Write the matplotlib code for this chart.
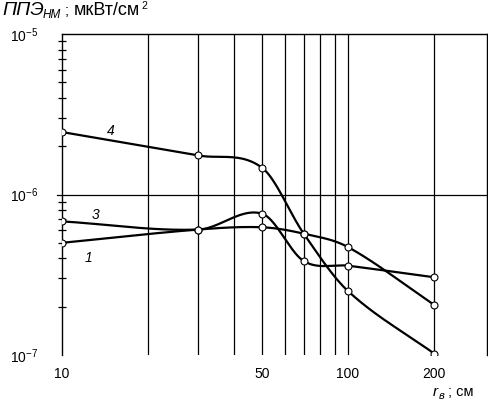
import numpy as np
import matplotlib
matplotlib.use("Agg")
import matplotlib.pyplot as plt

plt.rcParams['font.family'] = ['Liberation Sans', 'DejaVu Sans']
plt.rcParams['mathtext.fontset'] = 'custom'
plt.rcParams['mathtext.rm'] = 'Liberation Sans'
plt.rcParams['mathtext.it'] = 'Liberation Sans:italic'

# данные (r_в, см ; ППЭ, мкВт/см2)
r_points = [10, 30, 50, 70, 100, 200]
ppe_1 = [5.0e-7, 6.05e-7, 6.25e-7, 5.7e-7, 4.7e-7, 2.05e-7]
ppe_3 = [6.8e-7, 6.05e-7, 7.6e-7, 3.85e-7, 3.6e-7, 3.05e-7]
ppe_4 = [2.45e-6, 1.75e-6, 1.47e-6, 5.7e-7, 2.5e-7, 1.02e-7]
curve_names = ['1', '3', '4']
grid_x = [20, 30, 40, 50, 60, 70, 80, 90, 100, 200]
x_ticks = [10, 50, 100, 200]
x_ticklabels = ['10', '50', '100', '200']
y_ticks = [1e-7, 1e-6, 1e-5]
y_ticklabels = [r'$10^{-7}$', r'$10^{-6}$', r'$10^{-5}$']


# сглаживание кривой (кубический эрмитов сплайн в лог-координатах)
def smooth(x, y, n=40):
    lx = np.log10(x)
    ly = np.log10(y)
    m = np.zeros(len(lx))
    m[0] = (ly[1] - ly[0]) / (lx[1] - lx[0])
    m[-1] = (ly[-1] - ly[-2]) / (lx[-1] - lx[-2])
    for i in range(1, len(lx) - 1):
        m[i] = (ly[i + 1] - ly[i - 1]) / (lx[i + 1] - lx[i - 1])
    xs, ys = [], []
    for i in range(len(lx) - 1):
        dx = lx[i + 1] - lx[i]
        t = np.linspace(0, 1, n)
        h00 = 2 * t**3 - 3 * t**2 + 1
        h10 = t**3 - 2 * t**2 + t
        h01 = -2 * t**3 + 3 * t**2
        h11 = t**3 - t**2
        xs.append(lx[i] + t * dx)
        ys.append(h00 * ly[i] + h10 * dx * m[i] + h01 * ly[i + 1] + h11 * dx * m[i + 1])
    return 10**np.concatenate(xs), 10**np.concatenate(ys)


fig = plt.figure(figsize=(4.88, 4.04), dpi=100)
ax = fig.add_axes([62 / 488, 1 - 355 / 404, (487 - 62) / 488, (355 - 34) / 404])
ax.set_xscale('log')
ax.set_yscale('log')
ax.set_xlim(10, 306)
ax.set_ylim(1e-7, 1e-5)

# сетка
ax.vlines(grid_x, 1e-7, 1e-5, colors='k', linewidth=0.9)
ax.axhline(1e-6, xmin=-0.012, color='k', linewidth=0.9, clip_on=False)

for yy in [ppe_1, ppe_3, ppe_4]:
    sx, sy = smooth(r_points, yy)
    ax.plot(sx, sy, color='k', linewidth=1.6, zorder=3)
    ax.plot(r_points, yy, linestyle='none', marker='o', markersize=5,
            markerfacecolor='white', markeredgecolor='k', markeredgewidth=0.8,
            zorder=4)

# подписи кривых
ax.text(12.4, 4.0e-7, curve_names[0], fontsize=10, style='italic', ha='center', va='center')
ax.text(13.1, 7.4e-7, curve_names[1], fontsize=10, style='italic', ha='center', va='center')
ax.text(14.8, 2.5e-6, curve_names[2], fontsize=10, style='italic', ha='center', va='center')

ax.spines['bottom'].set_visible(False)
for s in ['top', 'left', 'right']:
    ax.spines[s].set_linewidth(1.0)

ax.set_xticks(x_ticks)
ax.set_xticklabels(x_ticklabels, fontsize=10)
ax.xaxis.set_minor_locator(matplotlib.ticker.NullLocator())
ax.tick_params(axis='x', which='major', length=0, pad=9)

ax.set_yticks(y_ticks)
ax.set_yticklabels(y_ticklabels, fontsize=10)
ax.yaxis.set_minor_locator(matplotlib.ticker.LogLocator(base=10, subs=np.arange(2, 10)))
ax.yaxis.set_minor_formatter(matplotlib.ticker.NullFormatter())
ax.tick_params(axis='y', which='major', length=0, pad=17)
ax.tick_params(axis='y', which='minor', direction='inout', length=6, width=0.9)

# подпись оси Y
fig.text(2 / 488, 1 - 15 / 404, 'ППЭ', fontsize=14, style='italic', va='baseline')
fig.text(43 / 488, 1 - 18 / 404, 'НМ', fontsize=8.5, style='italic', va='baseline')
fig.text(65 / 488, 1 - 15 / 404, ';', fontsize=10.5, va='baseline')
t_units = fig.text(74 / 488, 1 - 15 / 404, 'мкВт/см', fontsize=13, va='baseline')
ax.annotate('2', xy=(1, 1), xycoords=t_units, xytext=(0.5, 1),
            textcoords='offset points', fontsize=7.5, va='top', ha='left')

# подпись оси X
fig.text(433 / 488, 1 - 396 / 404, 'r', fontsize=11, style='italic', va='baseline')
fig.text(439 / 488, 1 - 399 / 404, 'в', fontsize=8, style='italic', va='baseline')
fig.text(448 / 488, 1 - 396 / 404, '; см', fontsize=10.5, va='baseline')

fig.savefig('out.png', dpi=100)
